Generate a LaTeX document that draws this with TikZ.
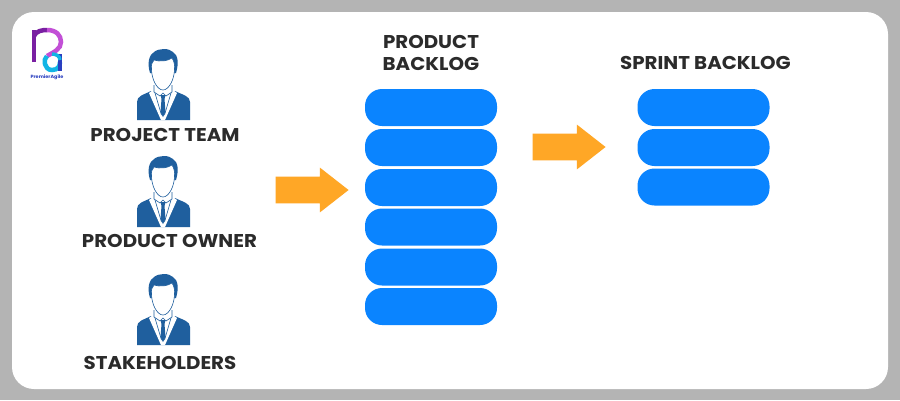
\documentclass[tikz,border=0pt]{standalone}
\usepackage{fontspec}
\setmainfont[FakeStretch=1.07]{Poppins}
\usetikzlibrary{shapes,arrows}
\definecolor{cardgray}{HTML}{B4B4B4}
\definecolor{barblue}{HTML}{0A84FF}
\definecolor{arroworange}{HTML}{FFA726}
\definecolor{suitblue}{HTML}{1F5F9E}
\definecolor{labeldark}{HTML}{2B2B2B}
\definecolor{logopurple}{HTML}{7A1FA2}
\definecolor{logopink}{HTML}{C24FD6}
\definecolor{logocyan}{HTML}{12B5E5}
\definecolor{logoblue}{HTML}{2A3FC0}
\tikzset{%
  bar/.style      = {fill=barblue, rectangle, rounded corners=17pt,
    minimum height = 37pt, minimum width = 132pt, inner sep=0pt},
  bigarrow/.style = {fill=arroworange, single arrow, inner xsep=0pt, inner ysep=13pt,
    minimum height = 73pt, minimum width = 44pt, single arrow head extend=9pt,
    single arrow tip angle=76, single arrow head indent=0pt},
  lbl/.style      = {text=labeldark, font=\fontsize{18.5}{22}\selectfont\bfseries,
    align=center, inner sep=0pt},
  person/.pic     = {
    \fill[suitblue] (-26,71) -- (-26,53) .. controls (-26,47) and (-20,46) .. (-12,42)
      -- (12,42) .. controls (20,46) and (27,47) .. (27,53) -- (27,71) -- cycle;
    \fill[white] (-14,44) -- (-10,41) -- (10,41) -- (14,44) -- (2,71) -- (-2,71) -- cycle;
    \draw[suitblue, line width=0.6pt] (-8,44) -- (-1.5,66) (8,44) -- (1.5,66);
    \fill[suitblue] (-2.5,46) -- (2.5,46) -- (1.5,50) -- (2.5,63) -- (0,68) -- (-2.5,63) -- (-1.5,50) -- cycle;
    \draw[suitblue, line width=0.6pt] (-9,36) -- (-9,43) -- (-3,47) -- (0,44) -- (3,47) -- (9,43) -- (9,36);
    \fill[suitblue] (-13,24) .. controls (-16,14) and (-14,6) .. (-9,3)
      .. controls (-4,-1) and (6,-1) .. (10,3) .. controls (15,6) and (16,14) .. (13,24) -- cycle;
    \draw[suitblue, line width=0.6pt, fill=white] (-11.5,20) .. controls (-12,16) and (-11,13) .. (-9,11)
      .. controls (-3,13) and (5,12) .. (9,9) .. controls (11,12) and (12,16) .. (11.5,20)
      .. controls (11.5,30) and (6,41) .. (0,41) .. controls (-6,41) and (-11.5,30) .. (-11.5,20) -- cycle;
  }
}

\begin{document}
\begin{tikzpicture}[auto, thick, x=1pt, y=-1pt]

  \fill[cardgray] (0,0) rectangle (900,400);
  \fill[white, rounded corners=22pt] (12,12) rectangle (888,389);

  % logo
  \draw[logopurple, line width=4.5pt] (34,62) -- (34,30);
  \draw[logopurple, line width=4.5pt] (34,36) .. controls (36,31) and (42,30) .. (47,30);
  \draw[logopink, line width=4.5pt] (47,30) .. controls (56,30) and (61,35) .. (61,42)
    .. controls (61,49) and (54,52) .. (47,56);
  \draw[logocyan, line width=4.5pt] (47,56) .. controls (43,59) and (44,70) .. (52,70)
    .. controls (58,70) and (60,66) .. (60,62);
  \draw[logoblue, line width=3.5pt] (60,54) -- (60,71);
  \draw[logocyan, line width=3.5pt] (60,60) .. controls (60,56) and (56,54) .. (52,54);
  \draw node at (47,77) [text=logoblue, font=\fontsize{4.6}{6}\selectfont\bfseries, inner sep=0pt] (logotext) {PremierAgile};

  % people on the left
  \pic at (163,49) {person};
  \pic at (163,156) {person};
  \pic at (163,274) {person};
  \draw node at (165,135) [lbl] (team) {PROJECT TEAM};
  \draw node at (169.5,241) [lbl] (owner) {PRODUCT OWNER};
  \draw node at (160,363) [lbl] (holders) {STAKEHOLDERS};

  \draw node at (303.5,190) [bigarrow] (arr1) {};
  \draw node at (560.5,147) [bigarrow] (arr2) {};

  % product backlog
  \draw node at (431,53) [lbl] (prod) {PRODUCT\\BACKLOG};
  \draw node at (431,107.5) [bar] (pb1) {};
  \draw node at (431,147.5) [bar] (pb2) {};
  \draw node at (431,187.5) [bar] (pb3) {};
  \draw node at (431,227) [bar] (pb4) {};
  \draw node at (431,267) [bar] (pb5) {};
  \draw node at (431,306.5) [bar] (pb6) {};

  % sprint backlog
  \draw node at (705.5,63) [lbl] (sprint) {SPRINT BACKLOG};
  \draw node at (703.5,107.5) [bar] (sb1) {};
  \draw node at (703.5,147.5) [bar] (sb2) {};
  \draw node at (703.5,187) [bar] (sb3) {};

\end{tikzpicture}
\end{document}
